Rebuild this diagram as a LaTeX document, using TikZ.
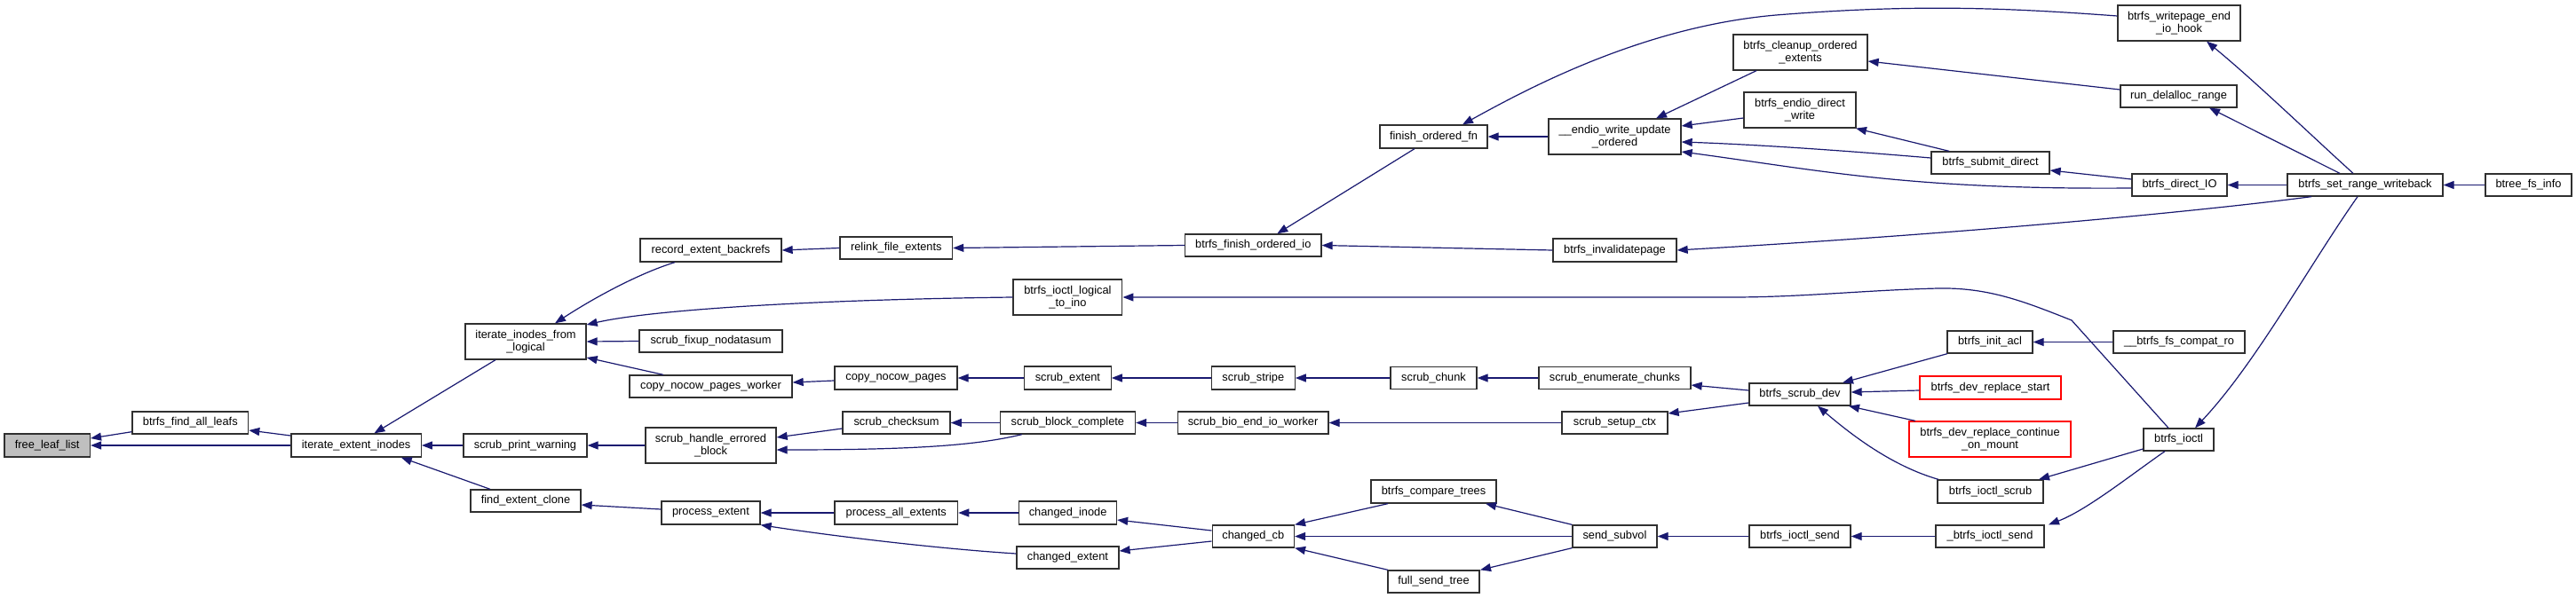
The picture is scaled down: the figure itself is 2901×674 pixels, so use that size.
\documentclass[tikz,border=0pt]{standalone}
\usepackage{fontspec}
\setmainfont{Liberation Sans}
\usetikzlibrary{arrows.meta}
\definecolor{edgeblue}{HTML}{191970}
\definecolor{boxline}{HTML}{303030}
\definecolor{curfill}{HTML}{BFBFBF}
\tikzset{
 box/.style={draw=boxline, line width=1.3pt, fill=white, inner sep=0pt, align=center, font=\fontsize{12.8}{14}\selectfont},
 redbox/.style={box, draw=red},
 wh/.style 2 args={minimum width=#1pt, minimum height=#2pt},
 e/.style={draw=edgeblue, line width=1.2pt, -{Triangle[length=12pt,width=9pt]}},
}
\begin{document}
\begin{tikzpicture}[x=1pt,y=-1pt]
\fill[white] (0,0) rectangle (2901,674);
\useasboundingbox (0,0) rectangle (2901,674);
% column 1-3
\node[box, fill=curfill, wh={96.4}{26}] (fll) at (53.2,502) {free\_leaf\_list};
\node[box, wh={130.7}{25}] (bfal) at (214.3,476.5) {btrfs\_find\_all\_leafs};
\node[box, wh={146.4}{26}] (iei) at (401.1,502) {iterate\_extent\_inodes};
% column 4
\node[box, wh={136}{40}] (ifl) at (592,385) {iterate\_inodes\_from\\\_logical};
\node[box, wh={139}{26}] (spw) at (591.5,502) {scrub\_print\_warning};
\node[box, wh={124}{25}] (fec) at (592,564.5) {find\_extent\_clone};
% column 5
\node[box, wh={159}{26}] (reb) at (800.5,282) {record\_extent\_backrefs};
\node[box, wh={161}{25}] (sfn) at (800.5,384.5) {scrub\_fixup\_nodatasum};
\node[box, wh={183}{25}] (cnpw) at (800.5,435.5) {copy\_nocow\_pages\_worker};
\node[box, wh={147}{40}] (sheb) at (800.5,502) {scrub\_handle\_errored\\\_block};
\node[box, wh={111}{26}] (pe) at (800.5,578) {process\_extent};
% column 6
\node[box, wh={126.6}{25}] (rfe) at (1009.3,279.5) {relink\_file\_extents};
\node[box, wh={138}{26}] (cnp) at (1009,426) {copy\_nocow\_pages};
\node[box, wh={121}{25}] (sc) at (1009.6,476.5) {scrub\_checksum};
\node[box, wh={138.6}{26}] (pae) at (1009.3,578) {process\_all\_extents};
% column 7
\node[box, wh={122.8}{40}] (ilti) at (1202.4,335) {btrfs\_ioctl\_logical\\\_to\_ino};
\node[box, wh={97.5}{26}] (se) at (1202.4,426) {scrub\_extent};
\node[box, wh={152.2}{25}] (sbc) at (1202.4,476.5) {scrub\_block\_complete};
\node[box, wh={109.8}{26}] (ci) at (1202.6,578) {changed\_inode};
\node[box, wh={115}{25}] (ce) at (1202.4,628.5) {changed\_extent};
% column 8
\node[box, wh={153.3}{25}] (bfoi) at (1411.3,276.5) {btrfs\_finish\_ordered\_io};
\node[box, wh={93.7}{26}] (ss) at (1411.3,426) {scrub\_stripe};
\node[box, wh={169.8}{25}] (sbeiw) at (1411.1,476.5) {scrub\_bio\_end\_io\_worker};
\node[box, wh={92.3}{25}] (ccb) at (1411.3,604.5) {changed\_cb};
% column 9
\node[box, wh={121}{26}] (fofn) at (1614.5,154) {finish\_ordered\_fn};
\node[box, wh={97}{25}] (sch) at (1614.5,426) {scrub\_chunk};
\node[box, wh={141}{26}] (bct) at (1614.5,554) {btrfs\_compare\_trees};
\node[box, wh={103}{25}] (fst) at (1614.5,655.5) {full\_send\_tree};
% column 10
\node[box, wh={149}{40}] (ewuo) at (1818.5,154) {\_\_endio\_write\_update\\\_ordered};
\node[box, wh={139}{26}] (bip) at (1818.5,282) {btrfs\_invalidatepage};
\node[box, wh={171}{25}] (sec) at (1818.5,426) {scrub\_enumerate\_chunks};
\node[box, wh={119}{25}] (ssc) at (1818.5,476.5) {scrub\_setup\_ctx};
\node[box, wh={95}{25}] (ssv) at (1818.5,604.5) {send\_subvol};
% column 11
\node[box, wh={151}{40}] (bcoe) at (2027.5,59) {btrfs\_cleanup\_ordered\\\_extents};
\node[box, wh={126}{40}] (bedw) at (2027,124) {btrfs\_endio\_direct\\\_write};
\node[box, wh={114}{25}] (bsd) at (2027,444.5) {btrfs\_scrub\_dev};
\node[box, wh={114}{25}] (bisend) at (2027,604.5) {btrfs\_ioctl\_send};
% column 12
\node[box, wh={133}{25}] (bsubd) at (2241.5,183.5) {btrfs\_submit\_direct};
\node[box, wh={96}{25}] (bia) at (2241,385.5) {btrfs\_init\_acl};
\node[redbox, wh={159}{26}] (bdrs) at (2241.5,437) {btrfs\_dev\_replace\_start};
\node[redbox, wh={182}{40}] (bdrcm) at (2241,495) {btrfs\_dev\_replace\_continue\\\_on\_mount};
\node[box, wh={119}{26}] (bis) at (2241.5,554) {btrfs\_ioctl\_scrub};
\node[box, wh={122}{25}] (ubis) at (2241,604.5) {\_btrfs\_ioctl\_send};
% column 13
\node[box, wh={138}{40}] (bweih) at (2454,26) {btrfs\_writepage\_end\\\_io\_hook};
\node[box, wh={131}{25}] (rdr) at (2453.5,108.5) {run\_delalloc\_range};
\node[box, wh={107}{25}] (bdio) at (2454.5,208.5) {btrfs\_direct\_IO};
\node[box, wh={148}{25}] (bfcr) at (2454,385.5) {\_\_btrfs\_fs\_compat\_ro};
\node[box, wh={79}{25}] (bioctl) at (2453.5,495.5) {btrfs\_ioctl};
% column 14-15
\node[box, wh={175}{25}] (bsrw) at (2663.5,208.5) {btrfs\_set\_range\_writeback};
\node[box, wh={97}{25}] (bfi) at (2847.5,208.5) {btree\_fs\_info};

% edges (caller -> callee, arrow at callee)
\draw[e] ([yshift=-10.2pt]bfal.west) -- ([yshift=8pt]fll.east);
\draw[e] (iei.west) -- (fll.east);
\draw[e] ([yshift=11pt]iei.west) -- ([yshift=-8.5pt]bfal.east);
\draw[e] ([xshift=-34pt]ifl.south) -- ([xshift=20.3pt]iei.north);
\draw[e] (spw.west) -- (iei.east);
\draw[e] ([xshift=-40pt]fec.north) -- ([xshift=50.7pt]iei.south);
\draw[e] ([xshift=-40.5pt]reb.south) .. controls (720,308) and (670,335) .. ([xshift=33pt]ifl.north);
\draw[e] (ilti.west) .. controls (900,338) and (730,350) .. ([yshift=19pt]ifl.east);
\draw[e] (sfn.west) -- (ifl.east);
\draw[e] ([xshift=-53.5pt]cnpw.north) -- ([yshift=-18pt]ifl.east);
\draw[e] (rfe.west) -- (reb.east);
\draw[e] (bfoi.west) -- (rfe.east);
\draw[e] ([xshift=-21.5pt]fofn.south) -- ([xshift=27pt]bfoi.north);
\draw[e] (bip.west) -- (bfoi.east);
\draw[e] (ewuo.west) -- (fofn.east);
\draw[e] ([yshift=8pt]bweih.west) .. controls (2250,8) and (2150,5) .. (2000,17) .. controls (1850,30) and (1720,100) .. ([xshift=32.5pt]fofn.north);
\draw[e] ([xshift=-49.5pt]bcoe.south) -- ([xshift=46.5pt]ewuo.north);
\draw[e] ([yshift=-9pt]bedw.west) -- ([yshift=12pt]ewuo.east);
\draw[e] ([yshift=5.5pt]bsubd.west) .. controls (2080,170) and (1980,163) .. ([yshift=-6pt]ewuo.east);
\draw[e] ([yshift=-3.5pt]bdio.west) .. controls (2150,214) and (2050,192) .. ([yshift=-17pt]ewuo.east);
\draw[e] ([yshift=7.5pt]rdr.west) -- ([yshift=-10pt]bcoe.east);
\draw[e] ([xshift=-46.5pt]bsubd.north) -- ([xshift=63pt]bedw.south);
\draw[e] ([yshift=6.5pt]bdio.west) -- ([yshift=-8.5pt]bsubd.east);
\draw[e] ([xshift=-13.5pt]bsrw.north) .. controls (2600,150) and (2540,92) .. ([xshift=31pt]bweih.south);
\draw[e] ([xshift=-28.5pt]bsrw.north) -- ([xshift=34.5pt]rdr.south);
\draw[e] (bsrw.west) -- (bdio.east);
\draw[e] ([xshift=-60.5pt]bsrw.south) .. controls (2540,230) and (2300,258) .. (bip.east);
\draw[e] ([xshift=-8.5pt]bsrw.south) .. controls (2600,300) and (2540,410) .. ([xshift=18.5pt]bioctl.north);
\draw[e] (bfi.west) -- (bsrw.east);
\draw[e] ([xshift=-11.5pt]bioctl.north) -- (2333,361) .. controls (2280,340) and (2240,324) .. (2183,325) .. controls (2100,327) and (2030,335) .. (1950,335) -- (ilti.east);
\draw[e] ([yshift=-3pt]cnp.west) -- ([yshift=4.5pt]cnpw.east);
\draw[e] (se.west) -- (cnp.east);
\draw[e] (ss.west) -- (se.east);
\draw[e] (sch.west) -- (ss.east);
\draw[e] (sec.west) -- (sch.east);
\draw[e] ([yshift=4.5pt]bsd.west) -- ([yshift=-8pt]sec.east);
\draw[e] ([yshift=-9.5pt]bsd.west) -- ([yshift=10.5pt]ssc.east);
\draw[e] (ssc.west) -- (sbeiw.east);
\draw[e] (sbeiw.west) -- (sbc.east);
\draw[e] (sbc.west) -- (sc.east);
\draw[e] ([xshift=-51.6pt]sbc.south) .. controls (1100,502) and (1030,507) .. ([yshift=-5pt]sheb.east);
\draw[e] ([yshift=-6.5pt]sc.west) -- ([yshift=9pt]sheb.east);
\draw[e] (sheb.west) -- (spw.east);
\draw[e] ([xshift=-48pt]bia.south) -- ([xshift=48pt]bsd.north);
\draw[e] ([yshift=-3pt]bdrs.west) -- ([yshift=2.5pt]bsd.east);
\draw[e] ([xshift=-84pt]bdrcm.north) -- ([xshift=55pt]bsd.south);
\draw[e] ([xshift=-58.5pt]bis.north) .. controls (2130,525) and (2085,490) .. ([xshift=20pt]bsd.south);
\draw[e] (bfcr.west) -- (bia.east);
\draw[e] ([yshift=-10.5pt]bioctl.west) -- ([xshift=54.5pt]bis.north);
\draw[e] ([xshift=-15.5pt]bioctl.south) .. controls (2400,535) and (2350,575) .. ([xshift=66pt]ubis.north);
\draw[e] (ubis.west) -- (bisend.east);
\draw[e] (bisend.west) -- (ssv.east);
\draw[e] (ssv.north west) -- ([xshift=58.5pt]bct.south);
\draw[e] (ssv.west) -- (ccb.east);
\draw[e] (ssv.south west) -- ([xshift=52.5pt]fst.north);
\draw[e] ([xshift=-51.5pt]bct.south) -- (ccb.north east);
\draw[e] ([xshift=-51.5pt]fst.north) -- (ccb.south east);
\draw[e] ([yshift=6.5pt]ccb.west) -- ([yshift=-8pt]ci.east);
\draw[e] ([yshift=-5.5pt]ccb.west) -- ([yshift=7.5pt]ce.east);
\draw[e] (ci.west) -- (pae.east);
\draw[e] ([yshift=4.5pt]ce.west) .. controls (1050,618) and (930,603) .. (pe.south east);
\draw[e] (pae.west) -- (pe.east);
\draw[e] ([yshift=4pt]pe.west) -- ([yshift=-4.5pt]fec.east);
\end{tikzpicture}
\end{document}
